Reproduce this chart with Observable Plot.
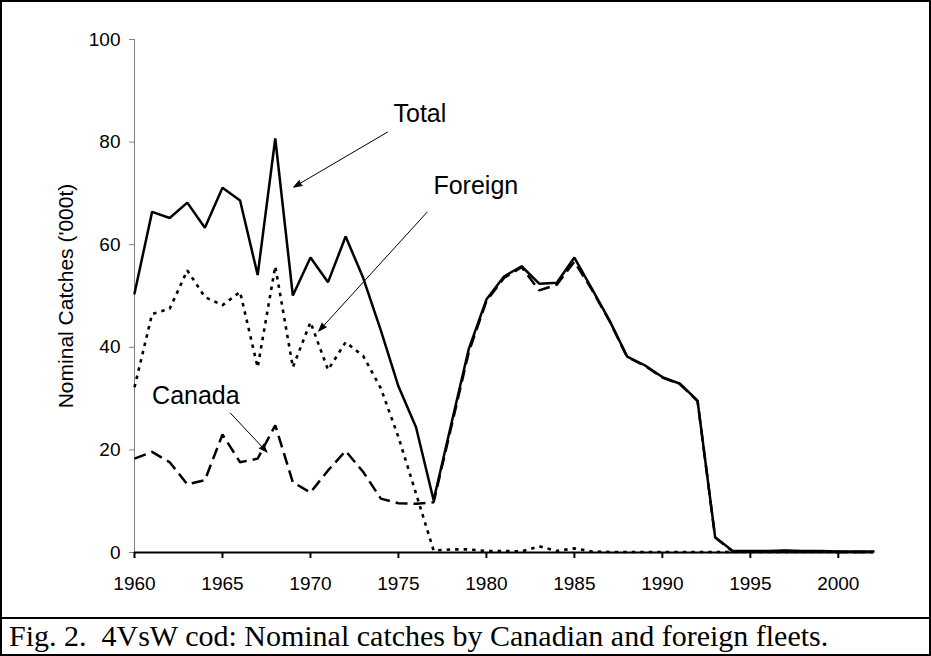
<!DOCTYPE html>
<html>
<head>
<meta charset="utf-8">
<script src="https://cdn.jsdelivr.net/npm/d3@7"></script>
<script src="https://cdn.jsdelivr.net/npm/@observablehq/plot@0.6"></script>
<style>
  html, body { margin: 0; padding: 0; background: #fff; }
  #fig { position: absolute; left: 0; top: 0; width: 931px; height: 656px; box-sizing: border-box; border: 2px solid #000; background: #fff; overflow: hidden; }
  #chart svg { display: block; }
  #caption { border-top: 2px solid #000; height: 35px; box-sizing: border-box; font-family: "Liberation Serif", "Times New Roman", serif; font-size: 30px; line-height: 33px; padding-left: 7px; white-space: pre; color: #000; }
</style>
</head>
<body>
<div id="fig">
  <div id="chart"></div>
  <div id="caption">Fig. 2.  4VsW cod: Nominal catches by Canadian and foreign fleets.</div>
</div>
<script>
const years = [1960, 1961, 1962, 1963, 1964, 1965, 1966, 1967, 1968, 1969,
  1970, 1971, 1972, 1973, 1974, 1975, 1976, 1977, 1978, 1979,
  1980, 1981, 1982, 1983, 1984, 1985, 1986, 1987, 1988, 1989,
  1990, 1991, 1992, 1993, 1994, 1995, 1996, 1997, 1998, 1999,
  2000, 2001, 2002];
const total = [50.5, 66.4, 65.2, 68.2, 63.3, 71.1, 68.6, 54.1, 80.7, 50.1,
  57.5, 52.7, 61.6, 53.5, 43.3, 32.4, 24.4, 10.2, 25.0, 39.7,
  49.3, 53.8, 55.8, 52.4, 52.6, 57.5, 51.4, 45.2, 38.2, 36.5,
  34.2, 32.9, 29.6, 3.0, 0.3, 0.3, 0.3, 0.4, 0.3, 0.3,
  0.2, 0.2, 0.2];
const foreign = [32.2, 46.5, 47.5, 55.0, 49.8, 48.2, 50.8, 36.1, 55.8, 36.1,
  44.9, 35.6, 41.0, 38.3, 32.0, 22.5, 11.5, 0.4, 0.6, 0.6,
  0.3, 0.3, 0.2, 1.2, 0.3, 0.8, 0.2, 0.1, 0.1, 0.1,
  0.1, 0.1, 0.1, 0.1, 0.1, 0.1, 0.1, 0.1, 0.1, 0.1,
  0.1, 0.1, 0.1];
const canada = [18.3, 19.6, 17.6, 13.3, 14.1, 23.0, 17.6, 18.3, 24.8, 13.7,
  11.7, 16.0, 19.8, 15.7, 10.5, 9.6, 9.5, 9.8, 24.4, 39.1,
  49.0, 53.5, 55.6, 51.1, 52.2, 56.7, 51.2, 45.1, 38.1, 36.4,
  34.1, 32.8, 29.5, 2.9, 0.2, 0.2, 0.2, 0.3, 0.2, 0.2,
  0.1, 0.1, 0.1];

const xTicks = [1960, 1965, 1970, 1975, 1980, 1985, 1990, 1995, 2000];
const yTicks = [0, 20, 40, 60, 80, 100];
const yLabel = "Nominal Catches ('000t)";

// annotation labels and arrows (in data units)
const labelNames = ["Total", "Foreign", "Canada"];
const labelX = [1974.72, 1976.99, 1961.0];
const labelY = [85.4, 71.5, 30.6];
const arrowX1 = [1974.38, 1976.63, 1965.45];
const arrowY1 = [81.95, 66.35, 27.17];
const arrowX2 = [1969.05, 1970.47, 1967.53];
const arrowY2 = [71.23, 43.16, 19.57];

const rows = (vals) => years.map((y, i) => ({year: y, value: vals[i]}));
const labels = labelNames.map((t, i) => ({text: t, x: labelX[i], y: labelY[i]}));
const arrows = labelNames.map((t, i) => ({x1: arrowX1[i], y1: arrowY1[i], x2: arrowX2[i], y2: arrowY2[i]}));

const chart = Plot.plot({
  width: 927,
  height: 615,
  marginLeft: 132,
  marginRight: 56,
  marginTop: 37,
  marginBottom: 65,
  style: {fontFamily: "'Liberation Sans', Arial, sans-serif", fontSize: "19px", background: "white", color: "black"},
  x: {domain: [1960, 2002], axis: null},
  y: {domain: [0, 100], axis: null},
  marks: [
    Plot.ruleX([1960], {stroke: "#808080", strokeWidth: 1}),
    Plot.axisY({ticks: yTicks, tickSize: 5, tickPadding: 9, stroke: "#808080", fill: "black", fontSize: 19, label: null}),
    Plot.text([yLabel], {frameAnchor: "left", textAnchor: "middle", rotate: -90, dx: -68, fontSize: 21, fill: "black"}),
    Plot.line(rows(foreign), {x: "year", y: "value", stroke: "black", strokeWidth: 2.6, strokeDasharray: "3.5,5", strokeLinecap: "butt", strokeLinejoin: "miter"}),
    Plot.line(rows(canada), {x: "year", y: "value", stroke: "black", strokeWidth: 2.5, strokeDasharray: "12,6", strokeLinecap: "butt", strokeLinejoin: "miter"}),
    Plot.line(rows(total), {x: "year", y: "value", stroke: "black", strokeWidth: 2.5, strokeLinejoin: "miter"}),
    Plot.ruleY([0], {stroke: "black", strokeWidth: 2}),
    Plot.axisX({ticks: xTicks, tickFormat: "d", tickSize: 6, tickPadding: 18, strokeWidth: 2, stroke: "black", fill: "black", fontSize: 19, label: null}),
    Plot.arrow(arrows, {x1: "x1", y1: "y1", x2: "x2", y2: "y2", stroke: "black", fill: "black", strokeWidth: 1, headLength: 13, headAngle: 40}),
    Plot.text(labels, {x: "x", y: "y", text: "text", textAnchor: "start", fontSize: 25, fill: "black"})
  ]
});
document.getElementById("chart").appendChild(chart);
</script>
</body>
</html>
